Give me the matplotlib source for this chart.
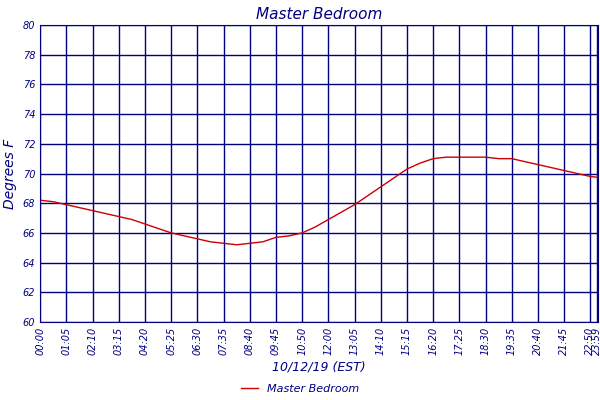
import matplotlib
matplotlib.use("Agg")
import matplotlib.pyplot as plt
import numpy as np

tick_labels = ["00:00","01:05","02:10","03:15","04:20","05:25","06:30","07:35","08:40","09:45",
               "10:50","12:00","13:05","14:10","15:15","16:20","17:25","18:30","19:35","20:40",
               "21:45","22:50","23:59"]
tick_pos = list(range(22)) + [21.25]
# temperature at every half tick position (0, 0.5, 1, ... 21.5)
temps = [68.2,68.1,67.9,67.7,67.5,67.3,67.1,66.9,66.6,66.3,66.0,65.8,65.6,65.4,65.3,65.2,65.3,65.4,
         65.7,65.8,66.0,66.4,66.9,67.4,67.9,68.5,69.1,69.7,70.3,70.7,71.0,71.1,71.1,71.1,71.1,71.0,
         71.0,70.8,70.6,70.4,70.2,70.0,69.8,69.7]
xs = np.arange(len(temps)) * 0.5

navy = "#000080"
fig = plt.figure(figsize=(6, 4), dpi=100)
ax = fig.add_axes([0.067, 0.195, 0.93, 0.7425])
ax.plot(xs, temps, color="#cc0000", lw=1, label="Master Bedroom")
ax.set_xlim(0, 21.3)
ax.set_ylim(60, 80)
ax.set_yticks(range(60, 81, 2))
ax.set_xticks(tick_pos)
ax.set_xticklabels(tick_labels, rotation=90, fontsize=7, style="italic", color=navy)
ax.tick_params(axis="y", labelsize=7, labelcolor=navy, length=0)
for l in ax.get_yticklabels():
    l.set_style("italic")
ax.tick_params(axis="x", length=0)
ax.grid(True, color=navy, lw=1)
for s in ax.spines.values():
    s.set_color(navy)
ax.set_title("Master Bedroom", fontsize=11, style="italic", color=navy, pad=4)
ax.set_ylabel("Degrees F", fontsize=10, style="italic", color=navy, labelpad=4)
ax.set_xlabel("10/12/19 (EST)", fontsize=9, style="italic", color=navy, labelpad=4)
leg = fig.legend(loc="lower center", bbox_to_anchor=(0.5, -0.01), frameon=False, fontsize=8,
                 handlelength=1.5)
for t in leg.get_texts():
    t.set_color(navy); t.set_style("italic")
fig.savefig("out.png", dpi=100)
